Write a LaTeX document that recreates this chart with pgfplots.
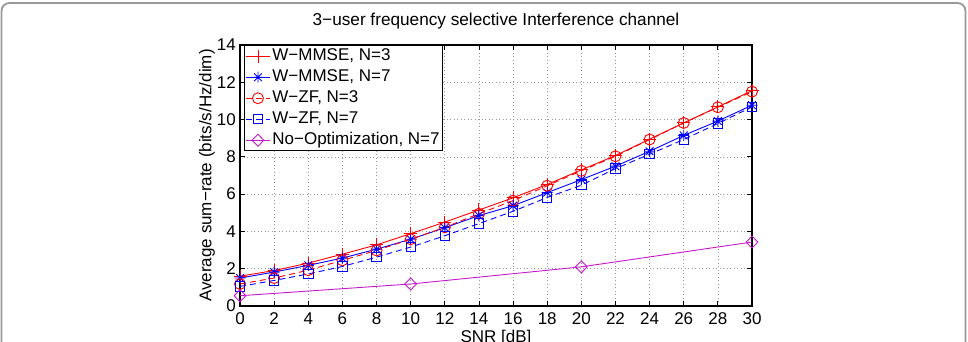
\documentclass[border=0pt]{standalone}
\usepackage{pgfplots}
\pgfplotsset{compat=1.18}
\usepackage{fontspec}
\setmainfont{Liberation Sans}

% MATLAB-style asterisk: a plus and a cross on top of each other
\pgfdeclareplotmark{matstar}{%
  \pgfpathmoveto{\pgfqpoint{-\pgfplotmarksize}{0pt}}%
  \pgfpathlineto{\pgfqpoint{\pgfplotmarksize}{0pt}}%
  \pgfpathmoveto{\pgfqpoint{0pt}{-\pgfplotmarksize}}%
  \pgfpathlineto{\pgfqpoint{0pt}{\pgfplotmarksize}}%
  \pgfpathmoveto{\pgfqpoint{-.707\pgfplotmarksize}{-.707\pgfplotmarksize}}%
  \pgfpathlineto{\pgfqpoint{.707\pgfplotmarksize}{.707\pgfplotmarksize}}%
  \pgfpathmoveto{\pgfqpoint{-.707\pgfplotmarksize}{.707\pgfplotmarksize}}%
  \pgfpathlineto{\pgfqpoint{.707\pgfplotmarksize}{-.707\pgfplotmarksize}}%
  \pgfusepathqstroke}

\definecolor{mred}{rgb}{1,0,0}
\definecolor{mblue}{rgb}{0,0,1}
\definecolor{mmag}{rgb}{0.78,0.1,0.8}
\definecolor{framegray}{rgb}{0.6,0.6,0.6}

\begin{document}
\begin{tikzpicture}[x=1pt,y=1pt]
\useasboundingbox (0,0) rectangle (968,342);
\clip (0,0) rectangle (968,342);
\draw[framegray, line width=1.8pt, rounded corners=8pt] (1.5,-30) rectangle (965.5,339);

\begin{axis}[
  at={(240pt,36pt)}, anchor=south west,
  scale only axis, width=512pt, height=261pt,
  xmin=0, xmax=30, ymin=0, ymax=14,
  xtick={0,2,...,30}, ytick={0,2,...,14},
  /pgf/number format/assume math mode=true,
  tick label style={font=\fontsize{17}{20}\selectfont},
  xticklabel style={anchor=base, yshift=-19pt},
  yticklabel style={anchor=east, inner sep=2pt, xshift=-2pt},
  tick align=inside, major tick length=5pt,
  tick style={black, line width=0.8pt},
  axis line style={black, line width=1.2pt},
  grid=major,
  grid style={dash pattern=on 1pt off 2.5pt, black!40, line width=0.7pt},
  title={3−user frequency selective Interference channel},
  title style={at={(rel axis cs:0.5,1)}, anchor=base, yshift=13pt, font=\fontsize{17.2}{20}\selectfont},
  xlabel={SNR [dB]},
  xlabel style={at={(rel axis cs:0.5,0)}, anchor=base, yshift=-37pt, font=\fontsize{17}{20}\selectfont},
  ylabel={Average sum−rate (bits/s/Hz/dim)},
  ylabel style={at={(rel axis cs:0,0.5)}, anchor=center, yshift=33pt, font=\fontsize{17}{20}\selectfont},
  legend cell align=left,
  legend style={at={(rel axis cs:0,1)}, anchor=north west, xshift=4pt, yshift=0pt,
    font=\fontsize{17}{20}\selectfont, draw=black, line width=1pt, fill=white,
    inner sep=1pt, row sep=1.5pt,
    nodes={inner sep=2pt, text height=12pt, text depth=3.5pt}},
  legend image code/.code={\draw[mark repeat=2,mark phase=2]
    plot coordinates {(0pt,0pt) (12pt,0pt) (24pt,0pt)};},
]
\addplot[mred, line width=0.9pt, mark=+, mark size=6.5pt, mark options={solid}]
  coordinates {(0,1.60) (2,1.90) (4,2.30) (6,2.78) (8,3.28) (10,3.88) (12,4.50) (14,5.15)
               (16,5.80) (18,6.52) (20,7.30) (22,8.07) (24,8.95) (26,9.82) (28,10.68) (30,11.55)};
\addlegendentry{W−MMSE, N=3}
\addplot[mblue, line width=0.9pt, mark=matstar, mark size=5.5pt, mark options={solid}]
  coordinates {(0,1.50) (2,1.82) (4,2.18) (6,2.57) (8,3.05) (10,3.58) (12,4.20) (14,4.85)
               (16,5.38) (18,6.08) (20,6.78) (22,7.50) (24,8.30) (26,9.15) (28,9.92) (30,10.77)};
\addlegendentry{W−MMSE, N=7}
\addplot[mred, line width=0.9pt, dash pattern=on 6pt off 4pt, mark=o, mark size=5.5pt, mark options={solid}]
  coordinates {(0,1.18) (2,1.50) (4,1.92) (6,2.45) (8,2.98) (10,3.58) (12,4.22) (14,4.95)
               (16,5.65) (18,6.45) (20,7.25) (22,8.03) (24,8.93) (26,9.82) (28,10.66) (30,11.50)};
\addlegendentry{W−ZF, N=3}
\addplot[mblue, line width=0.9pt, dash pattern=on 6pt off 4pt, mark=square, mark size=4.7pt, mark options={solid}]
  coordinates {(0,1.05) (2,1.37) (4,1.72) (6,2.12) (8,2.62) (10,3.16) (12,3.77) (14,4.42)
               (16,5.08) (18,5.82) (20,6.48) (22,7.37) (24,8.14) (26,8.93) (28,9.79) (30,10.68)};
\addlegendentry{W−ZF, N=7}
\addplot[mmag, line width=0.9pt, mark=diamond, mark size=6pt, mark options={solid, xscale=1.3}]
  coordinates {(0,0.55) (10,1.18) (20,2.10) (30,3.43)};
\addlegendentry{No−Optimization, N=7}
\end{axis}
\end{tikzpicture}
\end{document}
